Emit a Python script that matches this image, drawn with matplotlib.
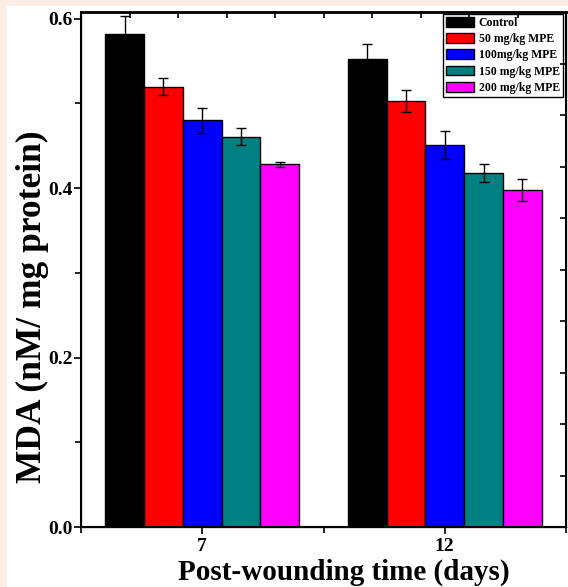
import numpy as np
import matplotlib
matplotlib.use("Agg")
import matplotlib.pyplot as plt
from matplotlib.patches import Rectangle

# data
days = [7, 12]
groups = ["Control", "50 mg/kg MPE", "100mg/kg MPE", "150 mg/kg MPE", "200 mg/kg MPE"]
control = [0.582, 0.552]
mpe50 = [0.520, 0.503]
mpe100 = [0.480, 0.451]
mpe150 = [0.461, 0.418]
mpe200 = [0.428, 0.398]
control_err = [0.021, 0.018]
mpe50_err = [0.010, 0.013]
mpe100_err = [0.015, 0.017]
mpe150_err = [0.010, 0.011]
mpe200_err = [0.003, 0.013]
colors = ["#000000", "#FF0000", "#0000FF", "#008080", "#FF00FF"]

plt.rcParams["font.family"] = ["Liberation Serif", "DejaVu Serif"]
plt.rcParams["font.weight"] = "bold"

fig = plt.figure(figsize=(5.68, 5.87), dpi=100)
fig.patch.set_facecolor("#FAEDE3")
# white panel leaving a thin peach border on top and left
fig.patches.append(Rectangle((7 / 568, 0), 1, 1 - 6 / 587, transform=fig.transFigure,
                             facecolor="white", edgecolor="none", zorder=-10))

ax = fig.add_axes([81 / 568, 1 - 527 / 587, (566 - 81) / 568, (527 - 12) / 587])
ax.set_facecolor("white")

series = [control, mpe50, mpe100, mpe150, mpe200]
errors = [control_err, mpe50_err, mpe100_err, mpe150_err, mpe200_err]
width = 0.8
x = np.array(days, dtype=float)
for i, (vals, err, col, lab) in enumerate(zip(series, errors, colors, groups)):
    off = (i - 2) * width
    ax.bar(x + off, vals, width, color=col, edgecolor="black", linewidth=1.0,
           label=lab, zorder=2)
    ax.errorbar(x + off, vals, yerr=err, fmt="none", ecolor="black",
                elinewidth=1.0, capsize=3.5, capthick=1.0, zorder=3)

ax.set_xlim(4.5, 14.5)
ax.set_ylim(0, 0.608)
ax.set_xticks(days)
ax.set_xticks([4.5, 9.5, 14.5], minor=True)
ax.set_yticks([0.0, 0.2, 0.4, 0.6])
ax.set_yticks([0.1, 0.3, 0.5], minor=True)
ax.set_yticklabels(["0.0", "0.2", "0.4", "0.6"])
ax.tick_params(axis="both", which="major", direction="out", length=5, width=1.2,
               labelsize=14, pad=1)
ax.tick_params(axis="both", which="minor", direction="out", length=4, width=1.2)
ax.tick_params(axis="x", which="major", pad=3)
for lab in ax.get_xticklabels() + ax.get_yticklabels():
    lab.set_fontweight("bold")

for side in ["left", "bottom", "right"]:
    ax.spines[side].set_linewidth(1.5)
ax.spines["top"].set_linewidth(2.0)

ax.set_ylabel("MDA (nM/ mg protein)", fontsize=25.5, fontweight="bold")
ax.yaxis.set_label_coords(-0.066, 0.427)
ax.set_xlabel("Post-wounding time (days)", fontsize=21, fontweight="bold")
ax.xaxis.set_label_coords(0.542, -0.062)

# independent inward ticks on top and right edges
ax_top = ax.twiny()
ax_top.set_xlim(0, 10)
ax_top.set_xticks(range(1, 10))
ax_top.tick_params(axis="x", direction="in", length=4, width=1.2, labeltop=False)
ax_right = ax.twinx()
ax_right.set_ylim(0, 10)
ax_right.set_yticks(range(1, 10))
ax_right.tick_params(axis="y", direction="in", length=4, width=1.2, labelright=False)

leg = ax.legend(loc="upper right", bbox_to_anchor=(0.996, 0.998), fontsize=8.5,
                frameon=True, fancybox=False, edgecolor="black", framealpha=1,
                handlelength=2.4, handleheight=0.9, handletextpad=0.4,
                labelspacing=0.35, borderpad=0.25, borderaxespad=0.1)
leg.get_frame().set_linewidth(1.0)
for t in leg.get_texts():
    t.set_fontweight("bold")

fig.savefig("out.png", dpi=100, facecolor=fig.get_facecolor())
